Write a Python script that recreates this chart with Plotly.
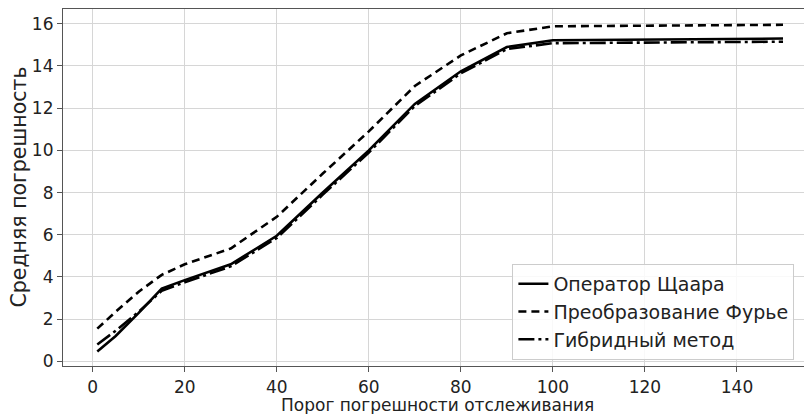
import plotly.graph_objects as go

x_vals = [1, 5, 10, 15, 20, 30, 40, 50, 60, 70, 80, 90, 100, 110, 120, 130, 140, 150]
scharr = [0.47, 1.2, 2.3, 3.45, 3.85, 4.6, 5.95, 8.0, 10.0, 12.2, 13.75, 14.9, 15.22, 15.24, 15.26, 15.27, 15.28, 15.3]
fourier = [1.55, 2.35, 3.3, 4.1, 4.6, 5.35, 6.85, 8.9, 10.9, 13.05, 14.5, 15.55, 15.88, 15.9, 15.91, 15.92, 15.93, 15.95]
hybrid = [0.8, 1.45, 2.35, 3.35, 3.75, 4.5, 5.85, 7.9, 9.9, 12.1, 13.65, 14.8, 15.08, 15.1, 15.11, 15.12, 15.13, 15.15]
names = ["Оператор Щаара", "Преобразование Фурье", "Гибридный метод"]
x_ticks = [0, 20, 40, 60, 80, 100, 120, 140]
y_ticks = [0, 2, 4, 6, 8, 10, 12, 14, 16]
x_title = "Порог погрешности отслеживания"
y_title = "Средняя погрешность"

FONT = "DejaVu Sans"
TXT = "#222222"
fig = go.Figure()
for i, (series, name, dash) in enumerate([(scharr, names[0], "solid"),
                                          (fourier, names[1], "8px,5px"),
                                          (hybrid, names[2], "16px,4px,3px,4px")]):
    fig.add_trace(go.Scatter(x=x_vals, y=series, mode="lines", name=name,
                             legendgroup=f"g{i}",
                             line=dict(color="black", width=2.6, dash=dash)))

axis_common = dict(showgrid=True, gridcolor="#d6d6d6", gridwidth=1,
                   showline=True, linecolor="#555555", linewidth=1.2, mirror=True,
                   ticks="outside", ticklen=5, tickcolor="#555555",
                   zeroline=False, automargin=False,
                   tickfont=dict(family=FONT, size=17, color=TXT))
fig.update_xaxes(range=[-6.45, 156.3], tickvals=x_ticks, **axis_common)
fig.update_yaxes(range=[-0.22, 16.7], tickvals=y_ticks, **axis_common)

fig.add_annotation(text=x_title, xref="paper", yref="paper", x=0.5, y=-0.109,
                   xanchor="center", yanchor="middle", showarrow=False,
                   font=dict(family=FONT, size=17, color=TXT))
fig.add_annotation(text=y_title, xref="paper", yref="paper", x=-0.060, y=0.5,
                   xanchor="center", yanchor="middle", textangle=-90, showarrow=False,
                   font=dict(family=FONT, size=20.5, color=TXT))

fig.update_layout(width=804, height=406, plot_bgcolor="white", paper_bgcolor="white",
                  margin=dict(l=55, r=0, t=1, b=48),
                  font=dict(family=FONT, size=18, color=TXT),
                  legend=dict(x=0.600, y=0.017, xanchor="left", yanchor="bottom",
                              traceorder="grouped", tracegroupgap=0,
                              bgcolor="rgba(255,255,255,0.85)", bordercolor="#cccccc",
                              borderwidth=1, font=dict(family=FONT, size=19, color=TXT)))
fig.write_html("out.html")
